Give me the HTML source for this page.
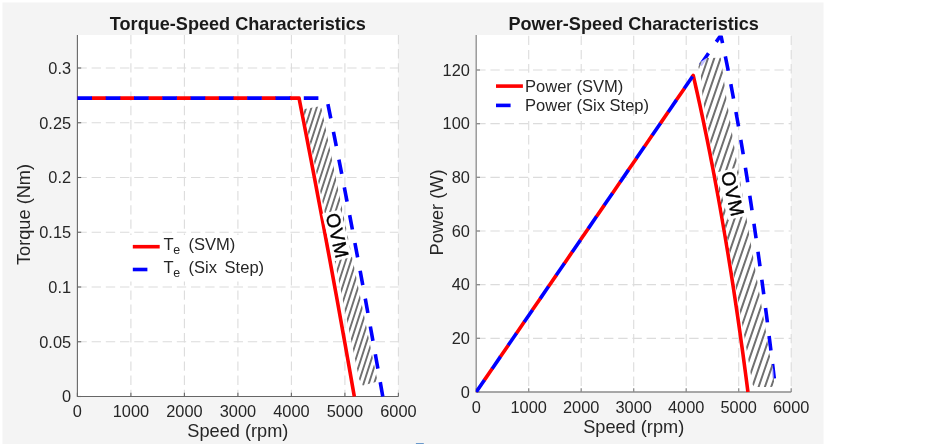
<!DOCTYPE html>
<html lang="en">
<head>
<meta charset="utf-8">
<title>Torque-Speed and Power-Speed Characteristics</title>
<style>
html,body{margin:0;padding:0;background:#ffffff;}
body{width:934px;height:444px;overflow:hidden;font-family:"Liberation Sans", Arial, Helvetica, sans-serif;}
svg{display:block;}
</style>
</head>
<body>
<svg width="934" height="444" viewBox="0 0 934 444" font-family='"Liberation Sans", Arial, Helvetica, sans-serif' fill="#262626">
<rect x="0" y="0" width="934" height="444" fill="#ffffff"/>
<rect x="2.5" y="2.5" width="821" height="442" fill="#f4f4f4"/>
<rect x="415.9" y="443.1" width="7.9" height="1" fill="#5b8fc7"/>
<g id="plot1">
<rect x="77.4" y="35" width="321" height="361.5" fill="#ffffff"/>
<g stroke="#dcdcdc" stroke-width="1.1" stroke-dasharray="9.4 4.8" fill="none">
<line x1="130.9" y1="396.5" x2="130.9" y2="35" stroke-dashoffset="2.7"/>
<line x1="184.4" y1="396.5" x2="184.4" y2="35" stroke-dashoffset="2.7"/>
<line x1="237.9" y1="396.5" x2="237.9" y2="35" stroke-dashoffset="2.7"/>
<line x1="291.4" y1="396.5" x2="291.4" y2="35" stroke-dashoffset="2.7"/>
<line x1="344.9" y1="396.5" x2="344.9" y2="35" stroke-dashoffset="2.7"/>
<line x1="398.4" y1="396.5" x2="398.4" y2="35" stroke-dashoffset="2.7"/>
<line x1="77.4" y1="341.75" x2="398.4" y2="341.75"/>
<line x1="77.4" y1="287" x2="398.4" y2="287"/>
<line x1="77.4" y1="232.25" x2="398.4" y2="232.25"/>
<line x1="77.4" y1="177.5" x2="398.4" y2="177.5"/>
<line x1="77.4" y1="122.75" x2="398.4" y2="122.75"/>
<line x1="77.4" y1="68" x2="398.4" y2="68"/>
</g>
</g>
<g id="plot2">
<rect x="476.2" y="35" width="315" height="357" fill="#ffffff"/>
<g stroke="#dcdcdc" stroke-width="1.1" stroke-dasharray="9.4 4.8" fill="none">
<line x1="528.7" y1="392" x2="528.7" y2="35" stroke-dashoffset="8.1"/>
<line x1="581.2" y1="392" x2="581.2" y2="35" stroke-dashoffset="8.1"/>
<line x1="633.7" y1="392" x2="633.7" y2="35" stroke-dashoffset="8.1"/>
<line x1="686.2" y1="392" x2="686.2" y2="35" stroke-dashoffset="8.1"/>
<line x1="738.7" y1="392" x2="738.7" y2="35" stroke-dashoffset="8.1"/>
<line x1="791.2" y1="392" x2="791.2" y2="35" stroke-dashoffset="8.1"/>
<line x1="476.2" y1="338.33" x2="791.2" y2="338.33"/>
<line x1="476.2" y1="284.67" x2="791.2" y2="284.67"/>
<line x1="476.2" y1="231" x2="791.2" y2="231"/>
<line x1="476.2" y1="177.34" x2="791.2" y2="177.34"/>
<line x1="476.2" y1="123.67" x2="791.2" y2="123.67"/>
<line x1="476.2" y1="70" x2="791.2" y2="70"/>
</g>
</g>
<rect x="126" y="235" width="145" height="46.5" fill="#ffffff"/>
<rect x="489" y="72.7" width="143.6" height="48" fill="#ffffff"/>
<g stroke="#666666" stroke-width="1.1" fill="none">
<path d="M77.4 35V396.5H398.4"/>
<line x1="77.4" y1="396.5" x2="77.4" y2="392.7"/>
<line x1="130.9" y1="396.5" x2="130.9" y2="392.7"/>
<line x1="184.4" y1="396.5" x2="184.4" y2="392.7"/>
<line x1="237.9" y1="396.5" x2="237.9" y2="392.7"/>
<line x1="291.4" y1="396.5" x2="291.4" y2="392.7"/>
<line x1="344.9" y1="396.5" x2="344.9" y2="392.7"/>
<line x1="398.4" y1="396.5" x2="398.4" y2="392.7"/>
<line x1="77.4" y1="396.5" x2="81.2" y2="396.5"/>
<line x1="77.4" y1="341.75" x2="81.2" y2="341.75"/>
<line x1="77.4" y1="287" x2="81.2" y2="287"/>
<line x1="77.4" y1="232.25" x2="81.2" y2="232.25"/>
<line x1="77.4" y1="177.5" x2="81.2" y2="177.5"/>
<line x1="77.4" y1="122.75" x2="81.2" y2="122.75"/>
<line x1="77.4" y1="68" x2="81.2" y2="68"/>
</g>
<g stroke="#8c8c8c" stroke-width="1.3" fill="none">
<path d="M476.2 35V392H791.2"/>
<line x1="476.2" y1="392" x2="476.2" y2="388.2"/>
<line x1="528.7" y1="392" x2="528.7" y2="388.2"/>
<line x1="581.2" y1="392" x2="581.2" y2="388.2"/>
<line x1="633.7" y1="392" x2="633.7" y2="388.2"/>
<line x1="686.2" y1="392" x2="686.2" y2="388.2"/>
<line x1="738.7" y1="392" x2="738.7" y2="388.2"/>
<line x1="791.2" y1="392" x2="791.2" y2="388.2"/>
<line x1="476.2" y1="392" x2="480" y2="392"/>
<line x1="476.2" y1="338.33" x2="480" y2="338.33"/>
<line x1="476.2" y1="284.67" x2="480" y2="284.67"/>
<line x1="476.2" y1="231" x2="480" y2="231"/>
<line x1="476.2" y1="177.34" x2="480" y2="177.34"/>
<line x1="476.2" y1="123.67" x2="480" y2="123.67"/>
<line x1="476.2" y1="70" x2="480" y2="70"/>
</g>
<clipPath id="c1"><rect x="77" y="35" width="323" height="361.9"/></clipPath>
<clipPath id="c2"><rect x="475.8" y="35.5" width="317" height="356.9"/></clipPath>
<g clip-path="url(#c1)" fill="none" stroke-width="3.6" stroke-linejoin="round">
<path d="M77.4 98.11L291.1 98.11" stroke="#ff0000" stroke-dasharray="14.7 13.6" stroke-dashoffset="-14.1"/>
<path d="M289.7 98.11L299.05 98.11L301.48 110.55L303.9 122.98L306.31 135.41L308.71 147.84L311.09 160.28L313.47 172.71L315.83 185.14L318.18 197.57L320.53 210.01L322.86 222.44L325.17 234.87L327.48 247.31L329.78 259.74L332.07 272.17L334.34 284.6L336.61 297.04L338.86 309.47L341.1 321.9L343.33 334.34L345.55 346.77L347.76 359.2L349.95 371.63L352.14 384.07L354.32 396.5" stroke="#ff0000"/>
<path d="M77.4 98.11L325.21 98.11L327.01 99.61L329.21 110.55L331.69 122.98L334.16 135.41L336.61 147.84L339.05 160.28L341.48 172.71L343.89 185.14L346.29 197.57L348.67 210.01L351.04 222.44L353.4 234.87L355.74 247.31L358.07 259.74L360.39 272.17L362.69 284.6L364.98 297.04L367.25 309.47L369.51 321.9L371.76 334.34L373.99 346.77L376.21 359.2L378.41 371.63L380.6 384.07L382.78 396.5" stroke="#0000ff" stroke-dasharray="14.6 13.7"/>
</g>
<g clip-path="url(#c2)" fill="none" stroke-width="3.6" stroke-linejoin="round">
<path d="M476.2 392L693.06 75.71" stroke="#ff0000" stroke-dasharray="14.7 13.6" stroke-dashoffset="-14.1"/>
<path d="M692.27 76.86L693.24 75.46L694.61 81.42L695.98 87.48L697.36 93.63L698.74 99.88L700.13 106.22L701.52 112.66L702.92 119.2L704.31 125.84L705.71 132.57L707.11 139.41L708.51 146.35L709.92 153.39L711.32 160.53L712.72 167.77L714.13 175.11L715.53 182.56L716.93 190.11L718.33 197.77L719.73 205.53L721.13 213.39L722.52 221.35L723.91 229.42L725.3 237.6L726.68 245.87L728.06 254.25L729.43 262.73L730.8 271.32L732.16 280L733.52 288.79L734.87 297.68L736.21 306.67L737.55 315.76L738.88 324.95L740.2 334.24L741.51 343.63L742.82 353.11L744.11 362.69L745.4 372.37L746.67 382.14L747.94 392" stroke="#ff0000"/>
<path d="M476.2 392L720.11 36.25L721.12 36.45L722.32 42.01L723.79 48.95L725.25 56.01L726.71 63.18L728.16 70.46L729.6 77.85L731.05 85.36L732.48 92.97L733.91 100.7L735.34 108.53L736.76 116.48L738.18 124.53L739.59 132.69L741 140.96L742.4 149.34L743.8 157.82L745.19 166.41L746.58 175.11L747.96 183.91L749.34 192.81L750.71 201.82L752.08 210.93L753.45 220.15L754.8 229.46L756.16 238.88L757.51 248.4L758.85 258.02L760.19 267.74L761.52 277.56L762.85 287.48L764.17 297.5L765.49 307.61L766.81 317.83L768.12 328.14L769.42 338.54L770.72 349.04L772.02 359.64L773.31 370.33L774.59 381.12L775.87 392" stroke="#0000ff" stroke-dasharray="14.6 13.7"/>
</g>
<clipPath id="h1"><path d="M303.3 109.3L319.8 106.2L321.6 108.5L377.6 381.5L362.8 385.5L359.3 379.5Z"/></clipPath>
<path d="M303.3 109.3L319.8 106.2L321.6 108.5L377.6 381.5L362.8 385.5L359.3 379.5Z" fill="#ffffff" fill-opacity="1.0"/>
<g clip-path="url(#h1)" stroke="#707070" stroke-width="1.9" fill="none">
<path d="M198.74 390L292.97 100M203.99 390L298.22 100M209.24 390L303.47 100M214.49 390L308.72 100M219.74 390L313.97 100M224.99 390L319.22 100M230.24 390L324.47 100M235.49 390L329.72 100M240.74 390L334.97 100M245.99 390L340.22 100M251.24 390L345.47 100M256.49 390L350.72 100M261.74 390L355.97 100M266.99 390L361.22 100M272.24 390L366.47 100M277.49 390L371.72 100M282.74 390L376.97 100M287.99 390L382.22 100M293.24 390L387.47 100M298.49 390L392.72 100M303.74 390L397.97 100M308.99 390L403.22 100M314.24 390L408.47 100M319.49 390L413.72 100M324.74 390L418.97 100M329.99 390L424.22 100M335.24 390L429.47 100M340.49 390L434.72 100M345.74 390L439.97 100M350.99 390L445.22 100M356.24 390L450.47 100M361.49 390L455.72 100M366.74 390L460.97 100M371.99 390L466.22 100M377.24 390L471.47 100M382.49 390L476.72 100"/>
</g>
<clipPath id="h2"><path d="M698.4 67L700 62.3L706.5 58L720.8 57.7L726.4 98.1L733.8 144L765.8 330.7L769.2 353L773.2 369.2L774 381.5Q774 387 771 387L754.5 387L752.6 384.5L744.2 335.4L702.7 98.1L701 77.3Z"/></clipPath>
<path d="M698.4 67L700 62.3L706.5 58L720.8 57.7L726.4 98.1L733.8 144L765.8 330.7L769.2 353L773.2 369.2L774 381.5Q774 387 771 387L754.5 387L752.6 384.5L744.2 335.4L702.7 98.1L701 77.3Z" fill="#ffffff" fill-opacity="0.75"/>
<g clip-path="url(#h2)" stroke="#707070" stroke-width="2.0" fill="none">
<path d="M568.54 390L685.62 50M574.84 390L691.92 50M581.14 390L698.22 50M587.44 390L704.52 50M593.74 390L710.82 50M600.04 390L717.12 50M606.34 390L723.42 50M612.64 390L729.72 50M618.94 390L736.02 50M625.24 390L742.32 50M631.54 390L748.62 50M637.84 390L754.92 50M644.14 390L761.22 50M650.44 390L767.52 50M656.74 390L773.82 50M663.04 390L780.12 50M669.34 390L786.42 50M675.64 390L792.72 50M681.94 390L799.02 50M688.24 390L805.32 50M694.54 390L811.62 50M700.84 390L817.92 50M707.14 390L824.22 50M713.44 390L830.52 50M719.74 390L836.82 50M726.04 390L843.12 50M732.34 390L849.42 50M738.64 390L855.72 50M744.94 390L862.02 50M751.24 390L868.32 50M757.54 390L874.62 50M763.84 390L880.92 50M770.14 390L887.22 50M776.44 390L893.52 50"/>
</g>
<g transform="translate(337.5 235.3) rotate(76.5)">
<rect x="-24.5" y="-9" width="49" height="19" fill="#ffffff"/>
<text x="0.4" y="6.87" font-size="19.2" letter-spacing="0.8" text-anchor="middle" fill="#000000" stroke="#000000" stroke-width="0.4">OVM</text>
</g>
<g transform="translate(732.8 193.7) rotate(76.5)">
<rect x="-24.5" y="-9" width="49" height="20" fill="#ffffff"/>
<text x="0.4" y="6.87" font-size="19.2" letter-spacing="0.8" text-anchor="middle" fill="#000000" stroke="#000000" stroke-width="0.4">OVM</text>
</g>
<g id="axes1">
<g font-size="16.36" text-anchor="end">
<text x="71.1" y="402.3">0</text>
<text x="71.1" y="347.55">0.05</text>
<text x="71.1" y="292.8">0.1</text>
<text x="71.1" y="238.05">0.15</text>
<text x="71.1" y="183.3">0.2</text>
<text x="71.1" y="128.55">0.25</text>
<text x="71.1" y="73.8">0.3</text>
</g>
<g font-size="16.36" text-anchor="middle">
<text x="77.4" y="417.3">0</text>
<text x="130.9" y="417.3">1000</text>
<text x="184.4" y="417.3">2000</text>
<text x="237.9" y="417.3">3000</text>
<text x="291.4" y="417.3">4000</text>
<text x="344.9" y="417.3">5000</text>
<text x="398.4" y="417.3">6000</text>
</g>
<text x="237.9" y="436.8" font-size="18.2" text-anchor="middle">Speed (rpm)</text>
<text transform="translate(30 214.5) rotate(-90)" font-size="18.2" text-anchor="middle">Torque (Nm)</text>
<text x="237.9" y="29.7" font-weight="bold" text-anchor="middle" fill="#1a1a1a" font-size="18.1">Torque-Speed Characteristics</text>
</g>
<g id="axes2">
<g font-size="16.36" text-anchor="end">
<text x="469.9" y="397.8">0</text>
<text x="469.9" y="344.13">20</text>
<text x="469.9" y="290.47">40</text>
<text x="469.9" y="236.8">60</text>
<text x="469.9" y="183.14">80</text>
<text x="469.9" y="129.47">100</text>
<text x="469.9" y="75.8">120</text>
</g>
<g font-size="16.36" text-anchor="middle">
<text x="476.2" y="412.5">0</text>
<text x="528.7" y="412.5">1000</text>
<text x="581.2" y="412.5">2000</text>
<text x="633.7" y="412.5">3000</text>
<text x="686.2" y="412.5">4000</text>
<text x="738.7" y="412.5">5000</text>
<text x="791.2" y="412.5">6000</text>
</g>
<text x="633.7" y="433.1" font-size="18.2" text-anchor="middle">Speed (rpm)</text>
<text transform="translate(443.2 212.5) rotate(-90)" font-size="18.2" text-anchor="middle">Power (W)</text>
<text x="633.7" y="29.7" font-weight="bold" text-anchor="middle" fill="#1a1a1a" font-size="18.1">Power-Speed Characteristics</text>
</g>
<g fill="none" stroke-width="3.6">
<line x1="132.8" y1="246.7" x2="159.7" y2="246.7" stroke="#ff0000"/>
<line x1="132.8" y1="269.5" x2="147.4" y2="269.5" stroke="#0000ff"/>
<line x1="496" y1="86.1" x2="522.9" y2="86.1" stroke="#ff0000"/>
<line x1="496" y1="105.4" x2="510.6" y2="105.4" stroke="#0000ff"/>
</g>
<g font-size="16.55">
<text x="163.5" y="250">T<tspan font-size="12.4" dy="3.9" x="173.2">e </tspan><tspan dy="-3.9" x="188.5">(SVM)</tspan></text>
<text x="163.5" y="272.7">T<tspan font-size="12.4" dy="3.9" x="173.2">e </tspan><tspan dy="-3.9" x="188.5">(Six </tspan><tspan x="224.6">Step)</tspan></text>
<text x="525" y="91.5">Power (SVM)</text>
<text x="525" y="110.9">Power (Six Step)</text>
</g>
</svg>
</body>
</html>
